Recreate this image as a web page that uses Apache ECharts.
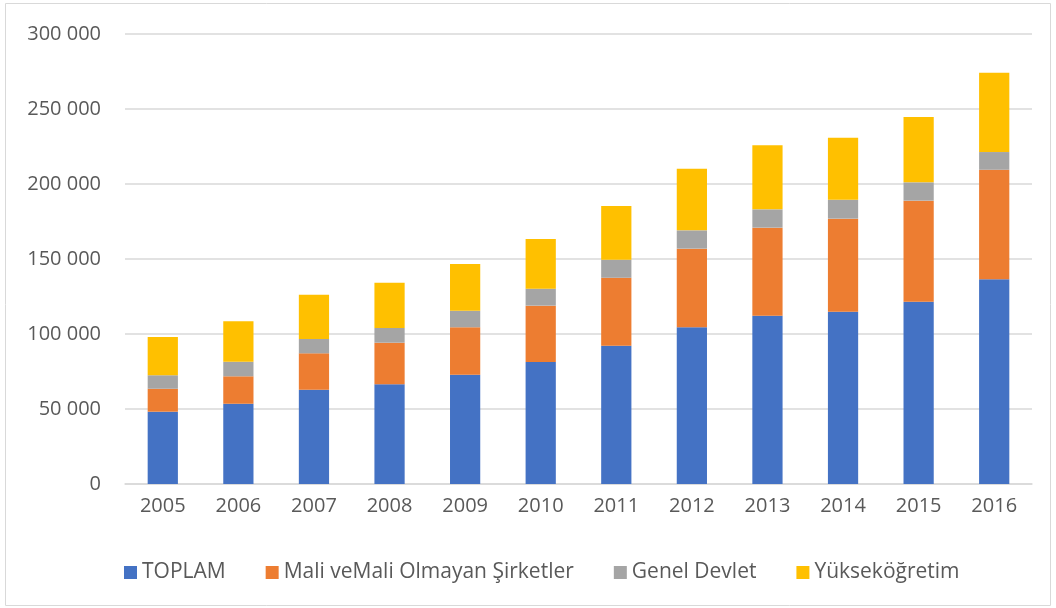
<!DOCTYPE html>
<html>
<head>
<meta charset="utf-8">
<script src="https://cdn.jsdelivr.net/npm/echarts@6/dist/echarts.min.js"></script>
<style>
  html, body { margin: 0; padding: 0; background: #fff; }
  #main { width: 1056px; height: 608px; }
</style>
</head>
<body>
<div id="main"></div>
<script>
var years = ['2005','2006','2007','2008','2009','2010','2011','2012','2013','2014','2015','2016'];
var toplam = [48200, 53500, 62900, 66500, 72900, 81300, 92200, 104500, 112200, 114900, 121500, 136500];
var sirketler = [15300, 18300, 24200, 27700, 31600, 37600, 45300, 52400, 58700, 62000, 67400, 73000];
var genelDevlet = [9000, 9700, 9600, 9800, 11000, 11300, 12000, 12200, 12200, 12600, 12200, 11800];
var yuksekogretim = [25500, 27000, 29500, 30200, 31200, 33100, 35800, 41100, 42700, 41400, 43600, 52900];

var txt = '#595959';
var font = '"Open Sans", "Noto Sans", sans-serif';

function fmt(v) {
    return String(v).replace(/\B(?=(\d{3})+(?!\d))/g, ' ');
}

function bar(name, data, color) {
    return {
        name: name,
        type: 'bar',
        stack: 'total',
        barWidth: '40%',
        itemStyle: { color: color },
        data: data
    };
}

option = {
    animation: false,
    textStyle: { fontFamily: font },
    graphic: [{
        type: 'rect',
        shape: { x: 5.5, y: 3.5, width: 1045, height: 602 },
        style: { fill: null, stroke: '#d9d9d9', lineWidth: 1 }
    }],
    legend: {
        left: 119,
        top: 557,
        itemWidth: 13,
        itemHeight: 13,
        itemGap: 40,
        icon: 'rect',
        textStyle: { color: txt, fontSize: 21, fontFamily: font },
        data: ['TOPLAM', 'Mali veMali Olmayan Şirketler', 'Genel Devlet', 'Yükseköğretim']
    },
    grid: { left: 125, right: 24, top: 34, bottom: 124 },
    xAxis: [{
        type: 'category',
        data: years,
        axisTick: { show: false },
        axisLine: { lineStyle: { color: '#d9d9d9', width: 1.5 } },
        axisLabel: { color: txt, fontSize: 20, margin: 12, fontFamily: font }
    }],
    yAxis: [{
        type: 'value',
        min: 0,
        max: 300000,
        interval: 50000,
        axisLine: { show: false },
        axisTick: { show: false },
        splitLine: { lineStyle: { color: '#d9d9d9', width: 1.5 } },
        axisLabel: { color: txt, fontSize: 20, margin: 24, fontFamily: font, formatter: fmt }
    }],
    series: [
        bar('TOPLAM', toplam, '#4472c4'),
        bar('Mali veMali Olmayan Şirketler', sirketler, '#ed7d31'),
        bar('Genel Devlet', genelDevlet, '#a5a5a5'),
        bar('Yükseköğretim', yuksekogretim, '#ffc000')
    ]
};
var myChart = echarts.init(document.getElementById('main'));
myChart.setOption(option);
</script>
</body>
</html>
